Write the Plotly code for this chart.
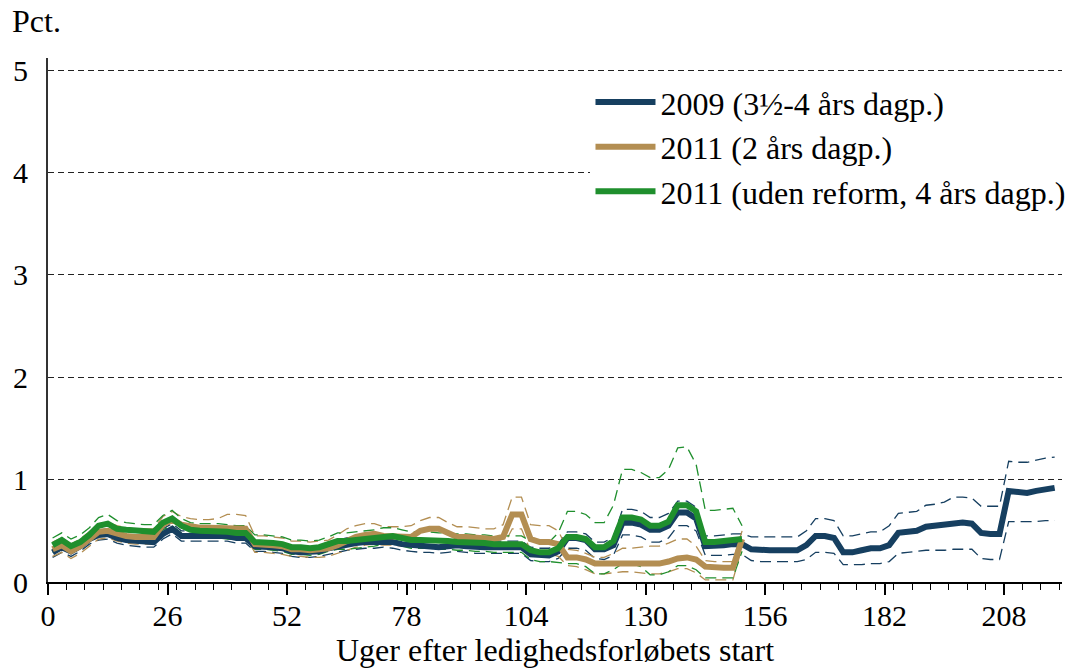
import plotly.graph_objects as go

weeks_2009 = list(range(1, 220, 2))
weeks_2011 = list(range(1, 152, 2))

b_main = [0.29, 0.34, 0.30, 0.35, 0.42, 0.46, 0.47, 0.43, 0.41, 0.40,
          0.39, 0.39, 0.47, 0.52, 0.45, 0.45, 0.45, 0.45, 0.45, 0.45,
          0.43, 0.43, 0.35, 0.35, 0.34, 0.33, 0.30, 0.29, 0.29, 0.30,
          0.33, 0.35, 0.37, 0.38, 0.39, 0.39, 0.40, 0.39, 0.37, 0.36,
          0.35, 0.35, 0.34, 0.35, 0.36, 0.35, 0.34, 0.34, 0.34, 0.34,
          0.34, 0.34, 0.27, 0.26, 0.26, 0.30, 0.43, 0.43, 0.41, 0.32,
          0.32, 0.36, 0.58, 0.58, 0.56, 0.51, 0.51, 0.55, 0.68, 0.68,
          0.62, 0.35, 0.35, 0.36, 0.37, 0.37, 0.32, 0.31, 0.31, 0.31,
          0.31, 0.31, 0.36, 0.45, 0.45, 0.43, 0.29, 0.29, 0.31, 0.33,
          0.33, 0.36, 0.48, 0.49, 0.50, 0.54, 0.55, 0.56, 0.58, 0.58,
          0.57, 0.48, 0.47, 0.47, 0.89, 0.88, 0.87, 0.89, 0.90, 0.92]
b_upper = [0.34, 0.39, 0.35, 0.40, 0.47, 0.51, 0.52, 0.48, 0.46, 0.45,
           0.44, 0.44, 0.52, 0.57, 0.50, 0.50, 0.50, 0.50, 0.50, 0.50,
           0.48, 0.48, 0.40, 0.40, 0.39, 0.38, 0.35, 0.34, 0.34, 0.35,
           0.39, 0.41, 0.43, 0.44, 0.45, 0.45, 0.46, 0.45, 0.43, 0.42,
           0.41, 0.41, 0.40, 0.41, 0.42, 0.41, 0.40, 0.40, 0.40, 0.40,
           0.40, 0.40, 0.34, 0.33, 0.33, 0.37, 0.49, 0.49, 0.47, 0.39,
           0.39, 0.44, 0.71, 0.71, 0.69, 0.63, 0.63, 0.67, 0.79, 0.79,
           0.73, 0.45, 0.45, 0.46, 0.47, 0.47, 0.44, 0.44, 0.44, 0.44,
           0.44, 0.44, 0.50, 0.62, 0.62, 0.60, 0.45, 0.45, 0.47, 0.49,
           0.49, 0.55, 0.67, 0.68, 0.69, 0.75, 0.76, 0.78, 0.83, 0.83,
           0.82, 0.74, 0.74, 0.74, 1.18, 1.17, 1.17, 1.19, 1.21, 1.22]
b_lower = [0.24, 0.29, 0.25, 0.30, 0.37, 0.41, 0.42, 0.38, 0.36, 0.35,
           0.34, 0.34, 0.42, 0.47, 0.40, 0.40, 0.40, 0.40, 0.40, 0.40,
           0.38, 0.38, 0.30, 0.30, 0.29, 0.28, 0.25, 0.24, 0.24, 0.25,
           0.27, 0.29, 0.31, 0.32, 0.33, 0.33, 0.34, 0.33, 0.31, 0.30,
           0.29, 0.29, 0.28, 0.29, 0.30, 0.29, 0.28, 0.28, 0.28, 0.28,
           0.28, 0.28, 0.21, 0.20, 0.20, 0.23, 0.33, 0.33, 0.31, 0.23,
           0.22, 0.26, 0.46, 0.46, 0.44, 0.39, 0.39, 0.43, 0.55, 0.55,
           0.50, 0.26, 0.26, 0.26, 0.27, 0.27, 0.21, 0.20, 0.20, 0.20,
           0.20, 0.20, 0.22, 0.29, 0.29, 0.28, 0.17, 0.17, 0.17, 0.18,
           0.18, 0.20, 0.28, 0.29, 0.30, 0.31, 0.31, 0.31, 0.32, 0.32,
           0.32, 0.23, 0.22, 0.22, 0.59, 0.59, 0.59, 0.59, 0.60, 0.60]

g_main = [0.36, 0.41, 0.35, 0.39, 0.46, 0.55, 0.57, 0.52, 0.51, 0.50,
          0.49, 0.49, 0.58, 0.62, 0.55, 0.51, 0.50, 0.50, 0.50, 0.49,
          0.48, 0.48, 0.39, 0.39, 0.38, 0.37, 0.34, 0.34, 0.33, 0.34,
          0.37, 0.40, 0.40, 0.41, 0.42, 0.43, 0.45, 0.45, 0.43, 0.41,
          0.41, 0.41, 0.40, 0.40, 0.39, 0.39, 0.38, 0.38, 0.37, 0.37,
          0.37, 0.37, 0.31, 0.29, 0.29, 0.33, 0.44, 0.44, 0.42, 0.34,
          0.34, 0.40, 0.63, 0.63, 0.61, 0.55, 0.55, 0.59, 0.75, 0.75,
          0.69, 0.39, 0.39, 0.40, 0.41, 0.42]
g_upper = [0.43, 0.48, 0.42, 0.46, 0.53, 0.63, 0.66, 0.60, 0.58, 0.57,
           0.56, 0.56, 0.65, 0.70, 0.62, 0.58, 0.57, 0.57, 0.57, 0.56,
           0.55, 0.55, 0.46, 0.46, 0.45, 0.44, 0.41, 0.41, 0.40, 0.41,
           0.44, 0.48, 0.48, 0.49, 0.50, 0.51, 0.53, 0.53, 0.51, 0.49,
           0.49, 0.49, 0.48, 0.48, 0.47, 0.47, 0.46, 0.46, 0.45, 0.45,
           0.45, 0.45, 0.40, 0.39, 0.39, 0.48, 0.69, 0.69, 0.66, 0.58,
           0.58, 0.75, 1.10, 1.10, 1.07, 1.02, 1.02, 1.10, 1.31, 1.32,
           1.15, 0.70, 0.70, 0.71, 0.72, 0.55]
g_lower = [0.29, 0.34, 0.28, 0.32, 0.39, 0.47, 0.49, 0.44, 0.44, 0.43,
           0.42, 0.42, 0.51, 0.55, 0.48, 0.44, 0.43, 0.43, 0.43, 0.42,
           0.41, 0.41, 0.32, 0.32, 0.31, 0.30, 0.27, 0.27, 0.26, 0.27,
           0.30, 0.32, 0.32, 0.33, 0.34, 0.35, 0.37, 0.37, 0.35, 0.33,
           0.33, 0.33, 0.32, 0.32, 0.31, 0.31, 0.30, 0.30, 0.29, 0.29,
           0.29, 0.29, 0.22, 0.20, 0.20, 0.19, 0.18, 0.18, 0.15, 0.08,
           0.08, 0.12, 0.18, 0.18, 0.15, 0.07, 0.07, 0.10, 0.16, 0.16,
           0.12, 0.04, 0.04, 0.04, 0.04, 0.30]

o_main = [0.32, 0.36, 0.30, 0.35, 0.42, 0.49, 0.50, 0.47, 0.45, 0.44,
          0.44, 0.44, 0.56, 0.61, 0.56, 0.54, 0.53, 0.53, 0.53, 0.53,
          0.52, 0.52, 0.37, 0.37, 0.36, 0.35, 0.32, 0.32, 0.31, 0.32,
          0.33, 0.36, 0.40, 0.44, 0.46, 0.47, 0.45, 0.45, 0.44, 0.44,
          0.50, 0.52, 0.52, 0.48, 0.44, 0.44, 0.43, 0.42, 0.42, 0.44,
          0.66, 0.66, 0.42, 0.39, 0.39, 0.37, 0.24, 0.24, 0.22, 0.18,
          0.18, 0.19, 0.19, 0.19, 0.19, 0.18, 0.18, 0.20, 0.23, 0.24,
          0.22, 0.15, 0.14, 0.14, 0.14, 0.42]
o_upper = [0.39, 0.43, 0.37, 0.42, 0.49, 0.57, 0.58, 0.55, 0.53, 0.52,
           0.52, 0.52, 0.64, 0.69, 0.64, 0.62, 0.61, 0.61, 0.62, 0.66,
           0.66, 0.65, 0.45, 0.45, 0.44, 0.43, 0.40, 0.40, 0.39, 0.40,
           0.41, 0.46, 0.52, 0.55, 0.57, 0.57, 0.54, 0.54, 0.54, 0.55,
           0.60, 0.63, 0.63, 0.58, 0.54, 0.54, 0.53, 0.52, 0.52, 0.56,
           0.83, 0.83, 0.56, 0.55, 0.55, 0.50, 0.32, 0.31, 0.28, 0.24,
           0.24, 0.28, 0.33, 0.33, 0.34, 0.35, 0.35, 0.38, 0.42, 0.42,
           0.35, 0.21, 0.20, 0.20, 0.20, 0.50]
o_lower = [0.25, 0.29, 0.23, 0.28, 0.35, 0.42, 0.43, 0.40, 0.38, 0.37,
           0.37, 0.37, 0.48, 0.53, 0.48, 0.46, 0.45, 0.45, 0.45, 0.44,
           0.44, 0.44, 0.29, 0.29, 0.28, 0.27, 0.25, 0.25, 0.24, 0.24,
           0.25, 0.28, 0.31, 0.34, 0.36, 0.37, 0.36, 0.36, 0.35, 0.35,
           0.40, 0.42, 0.42, 0.38, 0.35, 0.35, 0.34, 0.33, 0.33, 0.35,
           0.52, 0.52, 0.30, 0.28, 0.28, 0.25, 0.16, 0.15, 0.12, 0.08,
           0.08, 0.09, 0.10, 0.10, 0.09, 0.08, 0.08, 0.10, 0.13, 0.13,
           0.09, 0.02, 0.02, 0.02, 0.02, 0.34]

names = ["2009 (3½-4 års dagp.)", "2011 (2 års dagp.)", "2011 (uden reform, 4 års dagp.)"]
x_ticks = [0, 26, 52, 78, 104, 130, 156, 182, 208]
y_ticks = [0, 1, 2, 3, 4, 5]

BLUE = "#163f60"
GOLD = "#b38e52"
GREEN = "#1f8f2d"
FONT = "Liberation Serif, Times New Roman, serif"

fig = go.Figure()

series = [
    (weeks_2009, b_main, b_upper, b_lower, BLUE, names[0]),
    (weeks_2011, o_main, o_upper, o_lower, GOLD, names[1]),
    (weeks_2011, g_main, g_upper, g_lower, GREEN, names[2]),
]

for x, m, u, l, c, n in series:
    for band in (u, l):
        fig.add_trace(go.Scatter(x=x, y=band, mode="lines", showlegend=False,
                                 hoverinfo="skip",
                                 line=dict(color=c, width=1.3, dash="11px,6px")))

for x, m, u, l, c, n in series:
    fig.add_trace(go.Scatter(x=x, y=m, mode="lines", name=n,
                             line=dict(color=c, width=6)))

fig.update_layout(
    width=1086, height=672,
    margin=dict(l=48, r=24, t=58, b=85),
    paper_bgcolor="white", plot_bgcolor="white",
    font=dict(family=FONT, size=32, color="black"),
    showlegend=True,
    legend=dict(x=0.535, y=0.968, xanchor="left", yanchor="top",
                bgcolor="white", borderwidth=0, font=dict(size=32),
                tracegroupgap=0, itemwidth=60),
    xaxis=dict(range=[0, 220.6], tickmode="array", tickvals=x_ticks,
               ticks="outside", ticklen=11, tickwidth=1.5, tickcolor="black",
               minor=dict(dtick=4, tick0=0, ticks="outside", ticklen=6,
                          tickwidth=1.2, tickcolor="black", showgrid=False),
               showline=True, linecolor="black", linewidth=2,
               showgrid=False, zeroline=False,
               tickfont=dict(size=30), ticklabelstandoff=-5,
               title=dict(text="Uger efter ledighedsforløbets start",
                          font=dict(size=32), standoff=6)),
    yaxis=dict(range=[0, 5.12], tickmode="array", tickvals=y_ticks,
               ticks="outside", ticklen=12, tickcolor="rgba(0,0,0,0)",
               showline=True, linecolor="#333333", linewidth=2,
               showgrid=True, gridcolor="#222222", gridwidth=1.2,
               griddash="6px,4px", zeroline=False,
               tickfont=dict(size=30)),
    annotations=[dict(text="Pct.", x=-0.0375, y=1.07, xref="paper", yref="paper",
                      xanchor="left", yanchor="middle", showarrow=False,
                      font=dict(size=32))],
)

fig.write_html("out.html")
